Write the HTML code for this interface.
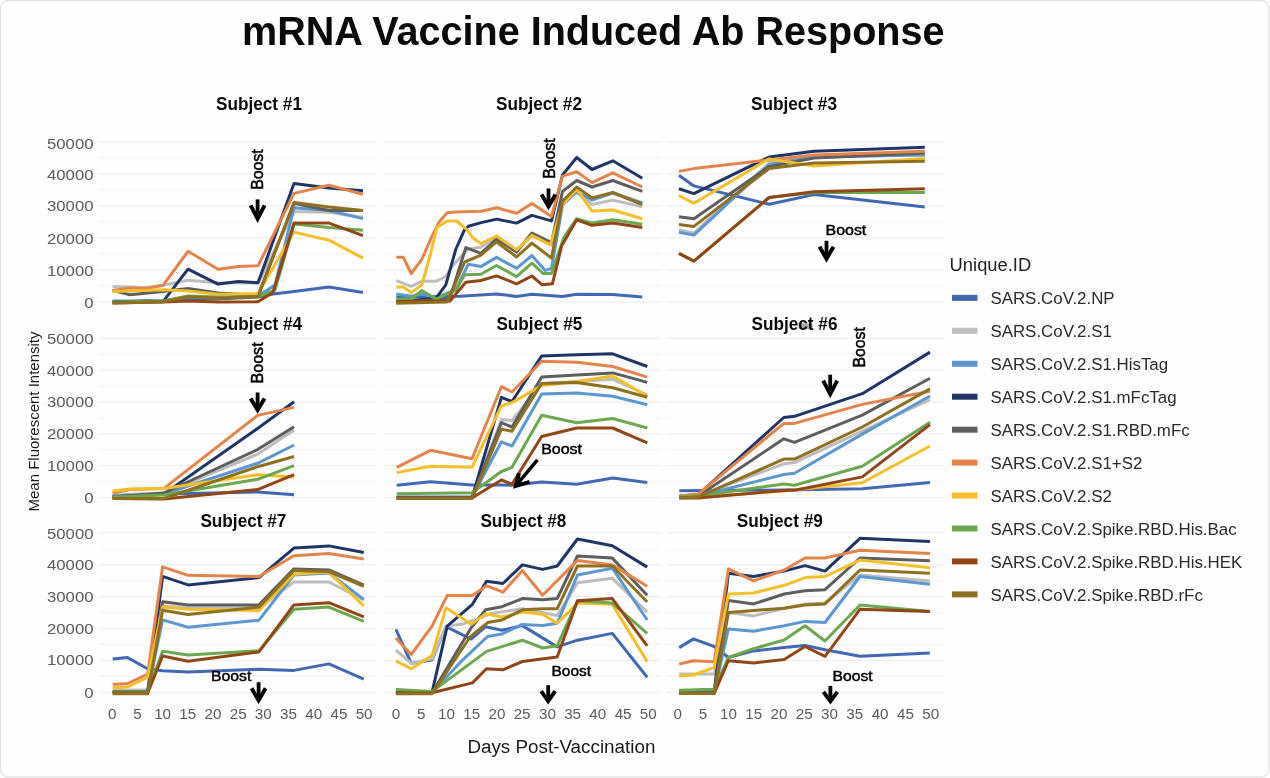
<!DOCTYPE html><html><head><meta charset="utf-8"><title>mRNA Vaccine Induced Ab Response</title>
<style>html,body{margin:0;padding:0;background:#fff;overflow:hidden;width:1270px;height:778px}svg{display:block;filter:blur(0.35px)}text{font-family:"Liberation Sans",sans-serif}</style></head><body>
<svg width="1270" height="778" viewBox="0 0 1270 778">
<rect x="0" y="0" width="1270" height="778" fill="#ffffff"/>
<rect x="0.5" y="0.5" width="1268.5" height="776.5" rx="8" ry="8" fill="#fefefe" stroke="#e4e4e4" stroke-width="1.4"/>
<g><line x1="99" y1="302.0" x2="376" y2="302.0" stroke="#ebebeb" stroke-width="1"/><line x1="384" y1="302.0" x2="661" y2="302.0" stroke="#ebebeb" stroke-width="1"/><line x1="666" y1="302.0" x2="944" y2="302.0" stroke="#ebebeb" stroke-width="1"/><line x1="99" y1="286.0" x2="376" y2="286.0" stroke="#f6f6f6" stroke-width="1"/><line x1="384" y1="286.0" x2="661" y2="286.0" stroke="#f6f6f6" stroke-width="1"/><line x1="666" y1="286.0" x2="944" y2="286.0" stroke="#f6f6f6" stroke-width="1"/><line x1="99" y1="270.0" x2="376" y2="270.0" stroke="#ebebeb" stroke-width="1"/><line x1="384" y1="270.0" x2="661" y2="270.0" stroke="#ebebeb" stroke-width="1"/><line x1="666" y1="270.0" x2="944" y2="270.0" stroke="#ebebeb" stroke-width="1"/><line x1="99" y1="254.0" x2="376" y2="254.0" stroke="#f6f6f6" stroke-width="1"/><line x1="384" y1="254.0" x2="661" y2="254.0" stroke="#f6f6f6" stroke-width="1"/><line x1="666" y1="254.0" x2="944" y2="254.0" stroke="#f6f6f6" stroke-width="1"/><line x1="99" y1="238.0" x2="376" y2="238.0" stroke="#ebebeb" stroke-width="1"/><line x1="384" y1="238.0" x2="661" y2="238.0" stroke="#ebebeb" stroke-width="1"/><line x1="666" y1="238.0" x2="944" y2="238.0" stroke="#ebebeb" stroke-width="1"/><line x1="99" y1="222.0" x2="376" y2="222.0" stroke="#f6f6f6" stroke-width="1"/><line x1="384" y1="222.0" x2="661" y2="222.0" stroke="#f6f6f6" stroke-width="1"/><line x1="666" y1="222.0" x2="944" y2="222.0" stroke="#f6f6f6" stroke-width="1"/><line x1="99" y1="206.0" x2="376" y2="206.0" stroke="#ebebeb" stroke-width="1"/><line x1="384" y1="206.0" x2="661" y2="206.0" stroke="#ebebeb" stroke-width="1"/><line x1="666" y1="206.0" x2="944" y2="206.0" stroke="#ebebeb" stroke-width="1"/><line x1="99" y1="190.0" x2="376" y2="190.0" stroke="#f6f6f6" stroke-width="1"/><line x1="384" y1="190.0" x2="661" y2="190.0" stroke="#f6f6f6" stroke-width="1"/><line x1="666" y1="190.0" x2="944" y2="190.0" stroke="#f6f6f6" stroke-width="1"/><line x1="99" y1="174.0" x2="376" y2="174.0" stroke="#ebebeb" stroke-width="1"/><line x1="384" y1="174.0" x2="661" y2="174.0" stroke="#ebebeb" stroke-width="1"/><line x1="666" y1="174.0" x2="944" y2="174.0" stroke="#ebebeb" stroke-width="1"/><line x1="99" y1="158.0" x2="376" y2="158.0" stroke="#f6f6f6" stroke-width="1"/><line x1="384" y1="158.0" x2="661" y2="158.0" stroke="#f6f6f6" stroke-width="1"/><line x1="666" y1="158.0" x2="944" y2="158.0" stroke="#f6f6f6" stroke-width="1"/><line x1="99" y1="142.0" x2="376" y2="142.0" stroke="#ebebeb" stroke-width="1"/><line x1="384" y1="142.0" x2="661" y2="142.0" stroke="#ebebeb" stroke-width="1"/><line x1="666" y1="142.0" x2="944" y2="142.0" stroke="#ebebeb" stroke-width="1"/><line x1="99" y1="497.5" x2="376" y2="497.5" stroke="#ebebeb" stroke-width="1"/><line x1="384" y1="497.5" x2="661" y2="497.5" stroke="#ebebeb" stroke-width="1"/><line x1="666" y1="497.5" x2="944" y2="497.5" stroke="#ebebeb" stroke-width="1"/><line x1="99" y1="481.6" x2="376" y2="481.6" stroke="#f6f6f6" stroke-width="1"/><line x1="384" y1="481.6" x2="661" y2="481.6" stroke="#f6f6f6" stroke-width="1"/><line x1="666" y1="481.6" x2="944" y2="481.6" stroke="#f6f6f6" stroke-width="1"/><line x1="99" y1="465.6" x2="376" y2="465.6" stroke="#ebebeb" stroke-width="1"/><line x1="384" y1="465.6" x2="661" y2="465.6" stroke="#ebebeb" stroke-width="1"/><line x1="666" y1="465.6" x2="944" y2="465.6" stroke="#ebebeb" stroke-width="1"/><line x1="99" y1="449.7" x2="376" y2="449.7" stroke="#f6f6f6" stroke-width="1"/><line x1="384" y1="449.7" x2="661" y2="449.7" stroke="#f6f6f6" stroke-width="1"/><line x1="666" y1="449.7" x2="944" y2="449.7" stroke="#f6f6f6" stroke-width="1"/><line x1="99" y1="433.8" x2="376" y2="433.8" stroke="#ebebeb" stroke-width="1"/><line x1="384" y1="433.8" x2="661" y2="433.8" stroke="#ebebeb" stroke-width="1"/><line x1="666" y1="433.8" x2="944" y2="433.8" stroke="#ebebeb" stroke-width="1"/><line x1="99" y1="417.9" x2="376" y2="417.9" stroke="#f6f6f6" stroke-width="1"/><line x1="384" y1="417.9" x2="661" y2="417.9" stroke="#f6f6f6" stroke-width="1"/><line x1="666" y1="417.9" x2="944" y2="417.9" stroke="#f6f6f6" stroke-width="1"/><line x1="99" y1="401.9" x2="376" y2="401.9" stroke="#ebebeb" stroke-width="1"/><line x1="384" y1="401.9" x2="661" y2="401.9" stroke="#ebebeb" stroke-width="1"/><line x1="666" y1="401.9" x2="944" y2="401.9" stroke="#ebebeb" stroke-width="1"/><line x1="99" y1="386.0" x2="376" y2="386.0" stroke="#f6f6f6" stroke-width="1"/><line x1="384" y1="386.0" x2="661" y2="386.0" stroke="#f6f6f6" stroke-width="1"/><line x1="666" y1="386.0" x2="944" y2="386.0" stroke="#f6f6f6" stroke-width="1"/><line x1="99" y1="370.1" x2="376" y2="370.1" stroke="#ebebeb" stroke-width="1"/><line x1="384" y1="370.1" x2="661" y2="370.1" stroke="#ebebeb" stroke-width="1"/><line x1="666" y1="370.1" x2="944" y2="370.1" stroke="#ebebeb" stroke-width="1"/><line x1="99" y1="354.2" x2="376" y2="354.2" stroke="#f6f6f6" stroke-width="1"/><line x1="384" y1="354.2" x2="661" y2="354.2" stroke="#f6f6f6" stroke-width="1"/><line x1="666" y1="354.2" x2="944" y2="354.2" stroke="#f6f6f6" stroke-width="1"/><line x1="99" y1="338.2" x2="376" y2="338.2" stroke="#ebebeb" stroke-width="1"/><line x1="384" y1="338.2" x2="661" y2="338.2" stroke="#ebebeb" stroke-width="1"/><line x1="666" y1="338.2" x2="944" y2="338.2" stroke="#ebebeb" stroke-width="1"/><line x1="99" y1="692.3" x2="376" y2="692.3" stroke="#ebebeb" stroke-width="1"/><line x1="384" y1="692.3" x2="661" y2="692.3" stroke="#ebebeb" stroke-width="1"/><line x1="666" y1="692.3" x2="944" y2="692.3" stroke="#ebebeb" stroke-width="1"/><line x1="99" y1="676.3" x2="376" y2="676.3" stroke="#f6f6f6" stroke-width="1"/><line x1="384" y1="676.3" x2="661" y2="676.3" stroke="#f6f6f6" stroke-width="1"/><line x1="666" y1="676.3" x2="944" y2="676.3" stroke="#f6f6f6" stroke-width="1"/><line x1="99" y1="660.4" x2="376" y2="660.4" stroke="#ebebeb" stroke-width="1"/><line x1="384" y1="660.4" x2="661" y2="660.4" stroke="#ebebeb" stroke-width="1"/><line x1="666" y1="660.4" x2="944" y2="660.4" stroke="#ebebeb" stroke-width="1"/><line x1="99" y1="644.4" x2="376" y2="644.4" stroke="#f6f6f6" stroke-width="1"/><line x1="384" y1="644.4" x2="661" y2="644.4" stroke="#f6f6f6" stroke-width="1"/><line x1="666" y1="644.4" x2="944" y2="644.4" stroke="#f6f6f6" stroke-width="1"/><line x1="99" y1="628.5" x2="376" y2="628.5" stroke="#ebebeb" stroke-width="1"/><line x1="384" y1="628.5" x2="661" y2="628.5" stroke="#ebebeb" stroke-width="1"/><line x1="666" y1="628.5" x2="944" y2="628.5" stroke="#ebebeb" stroke-width="1"/><line x1="99" y1="612.5" x2="376" y2="612.5" stroke="#f6f6f6" stroke-width="1"/><line x1="384" y1="612.5" x2="661" y2="612.5" stroke="#f6f6f6" stroke-width="1"/><line x1="666" y1="612.5" x2="944" y2="612.5" stroke="#f6f6f6" stroke-width="1"/><line x1="99" y1="596.6" x2="376" y2="596.6" stroke="#ebebeb" stroke-width="1"/><line x1="384" y1="596.6" x2="661" y2="596.6" stroke="#ebebeb" stroke-width="1"/><line x1="666" y1="596.6" x2="944" y2="596.6" stroke="#ebebeb" stroke-width="1"/><line x1="99" y1="580.6" x2="376" y2="580.6" stroke="#f6f6f6" stroke-width="1"/><line x1="384" y1="580.6" x2="661" y2="580.6" stroke="#f6f6f6" stroke-width="1"/><line x1="666" y1="580.6" x2="944" y2="580.6" stroke="#f6f6f6" stroke-width="1"/><line x1="99" y1="564.7" x2="376" y2="564.7" stroke="#ebebeb" stroke-width="1"/><line x1="384" y1="564.7" x2="661" y2="564.7" stroke="#ebebeb" stroke-width="1"/><line x1="666" y1="564.7" x2="944" y2="564.7" stroke="#ebebeb" stroke-width="1"/><line x1="99" y1="548.8" x2="376" y2="548.8" stroke="#f6f6f6" stroke-width="1"/><line x1="384" y1="548.8" x2="661" y2="548.8" stroke="#f6f6f6" stroke-width="1"/><line x1="666" y1="548.8" x2="944" y2="548.8" stroke="#f6f6f6" stroke-width="1"/><line x1="99" y1="532.8" x2="376" y2="532.8" stroke="#ebebeb" stroke-width="1"/><line x1="384" y1="532.8" x2="661" y2="532.8" stroke="#ebebeb" stroke-width="1"/><line x1="666" y1="532.8" x2="944" y2="532.8" stroke="#ebebeb" stroke-width="1"/></g>
<g><text x="93.5" y="307.5" text-anchor="end" font-size="15.2" fill="#5a5a5a" textLength="9.3" lengthAdjust="spacingAndGlyphs">0</text><text x="93.5" y="276.1" text-anchor="end" font-size="15.2" fill="#5a5a5a" textLength="46.5" lengthAdjust="spacingAndGlyphs">10000</text><text x="93.5" y="243.5" text-anchor="end" font-size="15.2" fill="#5a5a5a" textLength="46.5" lengthAdjust="spacingAndGlyphs">20000</text><text x="93.5" y="211.2" text-anchor="end" font-size="15.2" fill="#5a5a5a" textLength="46.5" lengthAdjust="spacingAndGlyphs">30000</text><text x="93.5" y="179.8" text-anchor="end" font-size="15.2" fill="#5a5a5a" textLength="46.5" lengthAdjust="spacingAndGlyphs">40000</text><text x="93.5" y="148.5" text-anchor="end" font-size="15.2" fill="#5a5a5a" textLength="46.5" lengthAdjust="spacingAndGlyphs">50000</text><text x="93.5" y="502.7" text-anchor="end" font-size="15.2" fill="#5a5a5a" textLength="9.3" lengthAdjust="spacingAndGlyphs">0</text><text x="93.5" y="471.0" text-anchor="end" font-size="15.2" fill="#5a5a5a" textLength="46.5" lengthAdjust="spacingAndGlyphs">10000</text><text x="93.5" y="439.3" text-anchor="end" font-size="15.2" fill="#5a5a5a" textLength="46.5" lengthAdjust="spacingAndGlyphs">20000</text><text x="93.5" y="407.3" text-anchor="end" font-size="15.2" fill="#5a5a5a" textLength="46.5" lengthAdjust="spacingAndGlyphs">30000</text><text x="93.5" y="375.7" text-anchor="end" font-size="15.2" fill="#5a5a5a" textLength="46.5" lengthAdjust="spacingAndGlyphs">40000</text><text x="93.5" y="343.7" text-anchor="end" font-size="15.2" fill="#5a5a5a" textLength="46.5" lengthAdjust="spacingAndGlyphs">50000</text><text x="93.5" y="698.0" text-anchor="end" font-size="15.2" fill="#5a5a5a" textLength="9.3" lengthAdjust="spacingAndGlyphs">0</text><text x="93.5" y="665.4" text-anchor="end" font-size="15.2" fill="#5a5a5a" textLength="46.5" lengthAdjust="spacingAndGlyphs">10000</text><text x="93.5" y="633.8" text-anchor="end" font-size="15.2" fill="#5a5a5a" textLength="46.5" lengthAdjust="spacingAndGlyphs">20000</text><text x="93.5" y="602.4" text-anchor="end" font-size="15.2" fill="#5a5a5a" textLength="46.5" lengthAdjust="spacingAndGlyphs">30000</text><text x="93.5" y="570.3" text-anchor="end" font-size="15.2" fill="#5a5a5a" textLength="46.5" lengthAdjust="spacingAndGlyphs">40000</text><text x="93.5" y="538.6" text-anchor="end" font-size="15.2" fill="#5a5a5a" textLength="46.5" lengthAdjust="spacingAndGlyphs">50000</text></g>
<g><text x="112.2" y="719.2" text-anchor="middle" font-size="15.2" fill="#5a5a5a">0</text><text x="137.4" y="719.2" text-anchor="middle" font-size="15.2" fill="#5a5a5a">5</text><text x="162.6" y="719.2" text-anchor="middle" font-size="15.2" fill="#5a5a5a">10</text><text x="187.8" y="719.2" text-anchor="middle" font-size="15.2" fill="#5a5a5a">15</text><text x="213.0" y="719.2" text-anchor="middle" font-size="15.2" fill="#5a5a5a">20</text><text x="238.2" y="719.2" text-anchor="middle" font-size="15.2" fill="#5a5a5a">25</text><text x="263.3" y="719.2" text-anchor="middle" font-size="15.2" fill="#5a5a5a">30</text><text x="288.5" y="719.2" text-anchor="middle" font-size="15.2" fill="#5a5a5a">35</text><text x="313.7" y="719.2" text-anchor="middle" font-size="15.2" fill="#5a5a5a">40</text><text x="338.9" y="719.2" text-anchor="middle" font-size="15.2" fill="#5a5a5a">45</text><text x="364.1" y="719.2" text-anchor="middle" font-size="15.2" fill="#5a5a5a">50</text><text x="396.0" y="719.2" text-anchor="middle" font-size="15.2" fill="#5a5a5a">0</text><text x="421.2" y="719.2" text-anchor="middle" font-size="15.2" fill="#5a5a5a">5</text><text x="446.5" y="719.2" text-anchor="middle" font-size="15.2" fill="#5a5a5a">10</text><text x="471.7" y="719.2" text-anchor="middle" font-size="15.2" fill="#5a5a5a">15</text><text x="496.9" y="719.2" text-anchor="middle" font-size="15.2" fill="#5a5a5a">20</text><text x="522.1" y="719.2" text-anchor="middle" font-size="15.2" fill="#5a5a5a">25</text><text x="547.4" y="719.2" text-anchor="middle" font-size="15.2" fill="#5a5a5a">30</text><text x="572.6" y="719.2" text-anchor="middle" font-size="15.2" fill="#5a5a5a">35</text><text x="597.8" y="719.2" text-anchor="middle" font-size="15.2" fill="#5a5a5a">40</text><text x="623.1" y="719.2" text-anchor="middle" font-size="15.2" fill="#5a5a5a">45</text><text x="648.3" y="719.2" text-anchor="middle" font-size="15.2" fill="#5a5a5a">50</text><text x="677.8" y="719.2" text-anchor="middle" font-size="15.2" fill="#5a5a5a">0</text><text x="703.1" y="719.2" text-anchor="middle" font-size="15.2" fill="#5a5a5a">5</text><text x="728.4" y="719.2" text-anchor="middle" font-size="15.2" fill="#5a5a5a">10</text><text x="753.7" y="719.2" text-anchor="middle" font-size="15.2" fill="#5a5a5a">15</text><text x="779.0" y="719.2" text-anchor="middle" font-size="15.2" fill="#5a5a5a">20</text><text x="804.2" y="719.2" text-anchor="middle" font-size="15.2" fill="#5a5a5a">25</text><text x="829.5" y="719.2" text-anchor="middle" font-size="15.2" fill="#5a5a5a">30</text><text x="854.8" y="719.2" text-anchor="middle" font-size="15.2" fill="#5a5a5a">35</text><text x="880.1" y="719.2" text-anchor="middle" font-size="15.2" fill="#5a5a5a">40</text><text x="905.4" y="719.2" text-anchor="middle" font-size="15.2" fill="#5a5a5a">45</text><text x="930.7" y="719.2" text-anchor="middle" font-size="15.2" fill="#5a5a5a">50</text></g>
<text x="242" y="45.4" font-size="40.5" font-weight="bold" fill="#0a0a0a" textLength="702.5" lengthAdjust="spacingAndGlyphs">mRNA Vaccine Induced Ab Response</text>
<rect x="798.5" y="323.3" width="14" height="5.7" fill="#8a8a8a" opacity="0.7"/>
<text x="216" y="109.8" font-size="18.5" font-weight="bold" fill="#0a0a0a" textLength="86" lengthAdjust="spacingAndGlyphs">Subject #1</text>
<text x="496" y="109.8" font-size="18.5" font-weight="bold" fill="#0a0a0a" textLength="86" lengthAdjust="spacingAndGlyphs">Subject #2</text>
<text x="751" y="109.8" font-size="18.5" font-weight="bold" fill="#0a0a0a" textLength="86" lengthAdjust="spacingAndGlyphs">Subject #3</text>
<text x="216.2" y="329.6" font-size="18.5" font-weight="bold" fill="#0a0a0a" textLength="86" lengthAdjust="spacingAndGlyphs">Subject #4</text>
<text x="496.4" y="329.6" font-size="18.5" font-weight="bold" fill="#0a0a0a" textLength="86" lengthAdjust="spacingAndGlyphs">Subject #5</text>
<text x="751.5" y="329.6" font-size="18.5" font-weight="bold" fill="#0a0a0a" textLength="86" lengthAdjust="spacingAndGlyphs">Subject #6</text>
<text x="200.4" y="527" font-size="18.5" font-weight="bold" fill="#0a0a0a" textLength="86" lengthAdjust="spacingAndGlyphs">Subject #7</text>
<text x="480.4" y="527" font-size="18.5" font-weight="bold" fill="#0a0a0a" textLength="86" lengthAdjust="spacingAndGlyphs">Subject #8</text>
<text x="736.8" y="527" font-size="18.5" font-weight="bold" fill="#0a0a0a" textLength="86" lengthAdjust="spacingAndGlyphs">Subject #9</text>
<text x="467.4" y="752.6" font-size="18" fill="#1a1a1a" textLength="188" lengthAdjust="spacingAndGlyphs">Days Post-Vaccination</text>
<text transform="translate(39.3,511.5) rotate(-90)" x="0" y="0" font-size="15.5" fill="#1a1a1a" textLength="180" lengthAdjust="spacingAndGlyphs">Mean Fluorescent Intensity</text>
<text x="949.6" y="270.7" font-size="18" fill="#222" textLength="81.6" lengthAdjust="spacingAndGlyphs">Unique.ID</text>
<rect x="952" y="294.9" width="25.5" height="6" fill="#4169b3"/>
<text x="990.4" y="304.0" font-size="16.9" fill="#2a2a2a">SARS.CoV.2.NP</text>
<rect x="952" y="327.8" width="25.5" height="6" fill="#bdbdbd"/>
<text x="990.4" y="336.9" font-size="16.9" fill="#2a2a2a">SARS.CoV.2.S1</text>
<rect x="952" y="360.8" width="25.5" height="6" fill="#5b97d0"/>
<text x="990.4" y="369.9" font-size="16.9" fill="#2a2a2a">SARS.CoV.2.S1.HisTag</text>
<rect x="952" y="393.7" width="25.5" height="6" fill="#1f3566"/>
<text x="990.4" y="402.8" font-size="16.9" fill="#2a2a2a">SARS.CoV.2.S1.mFcTag</text>
<rect x="952" y="426.7" width="25.5" height="6" fill="#5e5e5e"/>
<text x="990.4" y="435.8" font-size="16.9" fill="#2a2a2a">SARS.CoV.2.S1.RBD.mFc</text>
<rect x="952" y="459.6" width="25.5" height="6" fill="#e4844a"/>
<text x="990.4" y="468.7" font-size="16.9" fill="#2a2a2a">SARS.CoV.2.S1+S2</text>
<rect x="952" y="492.5" width="25.5" height="6" fill="#f4bf2a"/>
<text x="990.4" y="501.6" font-size="16.9" fill="#2a2a2a">SARS.CoV.2.S2</text>
<rect x="952" y="525.5" width="25.5" height="6" fill="#6ba84e"/>
<text x="990.4" y="534.6" font-size="16.9" fill="#2a2a2a">SARS.CoV.2.Spike.RBD.His.Bac</text>
<rect x="952" y="558.4" width="25.5" height="6" fill="#924616"/>
<text x="990.4" y="567.5" font-size="16.9" fill="#2a2a2a">SARS.CoV.2.Spike.RBD.His.HEK</text>
<rect x="952" y="591.4" width="25.5" height="6" fill="#8f7020"/>
<text x="990.4" y="600.5" font-size="16.9" fill="#2a2a2a">SARS.CoV.2.Spike.RBD.rFc</text>
<g><polyline points="112.6,302.0 163.0,301.0 188.0,299.0 218.0,299.0 258.0,297.0 273.0,294.0 294.0,291.5 329.0,287.0 363.0,292.4" fill="none" stroke="#4169b3" stroke-width="3" stroke-linejoin="round" stroke-linecap="butt"/><polyline points="112.6,286.6 130.0,287.0 146.6,287.5 163.0,285.3 188.0,280.3 218.0,282.8 258.0,283.0 294.0,211.4 329.0,212.2 363.0,217.5" fill="none" stroke="#bdbdbd" stroke-width="3" stroke-linejoin="round" stroke-linecap="butt"/><polyline points="112.6,301.0 163.0,301.0 188.0,297.0 218.0,298.0 258.0,296.0 275.0,285.0 294.0,207.8 329.0,210.5 363.0,218.6" fill="none" stroke="#5b97d0" stroke-width="3" stroke-linejoin="round" stroke-linecap="butt"/><polyline points="112.6,302.0 146.6,301.0 163.0,301.7 188.0,269.2 218.0,284.1 238.5,281.6 258.0,282.8 294.0,183.5 329.0,188.0 363.0,190.7" fill="none" stroke="#1f3566" stroke-width="3" stroke-linejoin="round" stroke-linecap="butt"/><polyline points="112.6,290.4 130.0,294.8 163.0,291.6 188.0,288.5 218.0,292.9 258.0,295.4 294.0,203.3 329.0,210.5 363.0,210.5" fill="none" stroke="#5e5e5e" stroke-width="3" stroke-linejoin="round" stroke-linecap="butt"/><polyline points="112.6,290.4 130.0,287.9 146.6,288.5 163.0,285.3 188.0,251.3 218.0,269.2 238.5,266.4 258.0,265.8 294.0,193.4 329.0,185.3 363.0,194.3" fill="none" stroke="#e4844a" stroke-width="3" stroke-linejoin="round" stroke-linecap="butt"/><polyline points="112.6,291.6 163.0,289.7 188.0,291.0 218.0,294.2 258.0,293.5 294.0,232.1 329.0,240.2 363.0,258.2" fill="none" stroke="#f4bf2a" stroke-width="3" stroke-linejoin="round" stroke-linecap="butt"/><polyline points="112.6,302.0 163.0,301.0 188.0,296.0 218.0,297.0 258.0,296.7 275.0,290.0 294.0,224.0 329.0,227.6 363.0,230.3" fill="none" stroke="#6ba84e" stroke-width="3" stroke-linejoin="round" stroke-linecap="butt"/><polyline points="112.6,303.0 163.0,302.0 188.0,301.0 218.0,302.0 258.0,301.7 273.0,292.4 294.0,223.1 329.0,223.1 363.0,235.7" fill="none" stroke="#924616" stroke-width="3" stroke-linejoin="round" stroke-linecap="butt"/><polyline points="112.6,303.0 163.0,301.7 188.0,296.7 218.0,298.0 258.0,296.7 294.0,202.4 329.0,206.9 363.0,210.5" fill="none" stroke="#8f7020" stroke-width="3" stroke-linejoin="round" stroke-linecap="butt"/></g>
<g><polyline points="396.3,297.0 460.0,296.2 496.7,294.0 516.6,296.4 531.9,294.2 562.5,296.4 576.7,294.2 612.8,294.5 642.3,297.0" fill="none" stroke="#4169b3" stroke-width="3" stroke-linejoin="round" stroke-linecap="butt"/><polyline points="396.3,280.6 411.2,286.3 421.8,281.3 435.9,281.3 445.0,277.0 453.0,265.5 461.2,256.2 468.2,249.3 481.2,247.0 496.7,237.0 516.6,250.0 531.9,236.0 551.5,245.0 562.5,200.0 576.7,192.5 592.0,204.5 612.8,200.1 642.3,206.7" fill="none" stroke="#bdbdbd" stroke-width="3" stroke-linejoin="round" stroke-linecap="butt"/><polyline points="396.3,294.0 411.2,296.2 421.8,294.0 435.9,297.6 455.7,290.0 468.2,264.3 480.9,266.6 496.5,257.4 516.6,268.3 531.9,255.5 545.2,270.4 551.5,268.3 562.5,205.0 576.7,192.0 592.0,200.0 612.8,193.0 642.3,203.0" fill="none" stroke="#5b97d0" stroke-width="3" stroke-linejoin="round" stroke-linecap="butt"/><polyline points="396.3,301.8 435.9,298.3 445.8,284.9 455.7,249.5 464.2,230.4 468.4,226.2 481.2,222.6 496.7,219.1 516.6,223.1 531.9,215.4 551.5,220.9 562.5,175.0 576.7,157.5 592.0,169.5 612.8,160.8 642.3,178.3" fill="none" stroke="#1f3566" stroke-width="3" stroke-linejoin="round" stroke-linecap="butt"/><polyline points="396.3,302.0 449.7,299.0 465.8,247.6 480.9,253.4 496.5,239.0 516.6,252.0 531.9,233.0 551.5,242.6 562.5,191.4 576.7,180.5 592.0,187.0 612.8,180.5 642.3,191.4" fill="none" stroke="#5e5e5e" stroke-width="3" stroke-linejoin="round" stroke-linecap="butt"/><polyline points="396.3,257.3 403.4,257.3 411.2,273.5 421.8,259.4 431.7,236.8 438.7,222.6 447.2,212.7 455.7,212.0 481.2,211.3 496.7,207.8 516.6,213.3 531.9,203.4 551.5,216.5 562.5,176.1 576.7,171.7 592.0,182.6 612.8,172.8 642.3,187.0" fill="none" stroke="#e4844a" stroke-width="3" stroke-linejoin="round" stroke-linecap="butt"/><polyline points="396.3,287.0 403.4,287.0 411.2,292.6 421.8,284.9 430.0,256.0 436.9,227.3 447.3,221.0 456.6,221.0 467.0,229.7 473.0,238.0 480.9,243.5 496.5,236.0 516.6,249.8 531.9,235.4 550.4,244.7 562.5,204.5 576.7,189.2 592.0,211.1 612.8,210.0 642.3,218.7" fill="none" stroke="#f4bf2a" stroke-width="3" stroke-linejoin="round" stroke-linecap="butt"/><polyline points="396.3,299.0 411.2,299.0 421.8,290.5 435.9,299.0 455.7,290.0 464.7,274.7 480.9,274.2 496.5,265.5 516.6,276.6 531.9,263.2 543.2,273.5 551.5,273.5 563.8,237.5 576.7,218.7 592.0,223.1 612.8,219.8 642.3,224.2" fill="none" stroke="#6ba84e" stroke-width="3" stroke-linejoin="round" stroke-linecap="butt"/><polyline points="396.3,301.5 450.0,301.0 465.8,282.3 480.9,280.5 496.5,275.9 516.6,283.8 531.9,276.0 542.2,284.8 552.4,283.8 561.7,245.7 576.7,219.8 592.0,225.3 612.8,223.1 642.3,227.5" fill="none" stroke="#924616" stroke-width="3" stroke-linejoin="round" stroke-linecap="butt"/><polyline points="396.3,303.2 447.0,302.0 464.7,262.0 480.9,255.1 496.5,241.8 516.6,257.0 531.9,243.1 551.5,258.0 562.5,201.2 576.7,187.0 592.0,198.0 612.8,192.5 642.3,204.5" fill="none" stroke="#8f7020" stroke-width="3" stroke-linejoin="round" stroke-linecap="butt"/></g>
<g><polyline points="678.9,175.3 693.9,185.9 769.1,204.2 814.0,194.6 924.8,207.1" fill="none" stroke="#4169b3" stroke-width="3" stroke-linejoin="round" stroke-linecap="butt"/><polyline points="678.9,230.0 693.9,233.0 769.1,163.0 814.0,156.0 924.8,155.0" fill="none" stroke="#bdbdbd" stroke-width="3" stroke-linejoin="round" stroke-linecap="butt"/><polyline points="678.9,232.2 693.9,235.1 769.1,164.7 814.0,157.0 924.8,155.0" fill="none" stroke="#5b97d0" stroke-width="3" stroke-linejoin="round" stroke-linecap="butt"/><polyline points="678.9,188.8 693.9,193.6 769.1,157.0 814.0,151.2 924.8,147.3" fill="none" stroke="#1f3566" stroke-width="3" stroke-linejoin="round" stroke-linecap="butt"/><polyline points="678.9,216.8 693.9,218.7 769.1,166.6 814.0,158.0 924.8,153.0" fill="none" stroke="#5e5e5e" stroke-width="3" stroke-linejoin="round" stroke-linecap="butt"/><polyline points="678.9,171.4 693.9,168.6 769.1,159.9 814.0,155.0 924.8,151.2" fill="none" stroke="#e4844a" stroke-width="3" stroke-linejoin="round" stroke-linecap="butt"/><polyline points="678.9,195.5 693.9,203.3 769.1,158.9 814.0,166.0 924.8,158.5" fill="none" stroke="#f4bf2a" stroke-width="3" stroke-linejoin="round" stroke-linecap="butt"/><polyline points="678.9,253.4 693.9,261.1 769.1,197.5 814.0,192.6 924.8,192.6" fill="none" stroke="#6ba84e" stroke-width="3" stroke-linejoin="round" stroke-linecap="butt"/><polyline points="678.9,253.4 693.9,261.1 769.1,197.5 814.0,191.7 924.8,188.8" fill="none" stroke="#924616" stroke-width="3" stroke-linejoin="round" stroke-linecap="butt"/><polyline points="678.9,224.5 693.9,226.4 769.1,168.5 814.0,163.0 924.8,161.2" fill="none" stroke="#8f7020" stroke-width="3" stroke-linejoin="round" stroke-linecap="butt"/></g>
<g><polyline points="112.6,497.0 163.9,494.1 257.6,491.9 294.1,494.8" fill="none" stroke="#4169b3" stroke-width="3" stroke-linejoin="round" stroke-linecap="butt"/><polyline points="112.6,495.0 163.9,493.0 257.6,454.2 294.1,430.0" fill="none" stroke="#bdbdbd" stroke-width="3" stroke-linejoin="round" stroke-linecap="butt"/><polyline points="112.6,496.0 163.9,494.0 257.6,463.3 294.1,445.0" fill="none" stroke="#5b97d0" stroke-width="3" stroke-linejoin="round" stroke-linecap="butt"/><polyline points="112.6,497.0 163.9,494.0 257.6,428.4 294.1,401.7" fill="none" stroke="#1f3566" stroke-width="3" stroke-linejoin="round" stroke-linecap="butt"/><polyline points="112.6,497.0 163.9,493.0 257.6,449.6 294.1,426.8" fill="none" stroke="#5e5e5e" stroke-width="3" stroke-linejoin="round" stroke-linecap="butt"/><polyline points="112.6,493.0 129.7,489.6 163.9,488.4 257.6,415.4 294.1,407.4" fill="none" stroke="#e4844a" stroke-width="3" stroke-linejoin="round" stroke-linecap="butt"/><polyline points="112.6,491.0 129.7,489.0 163.9,488.4 257.6,474.7 294.1,477.0" fill="none" stroke="#f4bf2a" stroke-width="3" stroke-linejoin="round" stroke-linecap="butt"/><polyline points="112.6,497.0 163.9,495.0 257.6,479.3 294.1,465.6" fill="none" stroke="#6ba84e" stroke-width="3" stroke-linejoin="round" stroke-linecap="butt"/><polyline points="112.6,498.5 163.9,499.0 257.6,489.6 294.1,474.7" fill="none" stroke="#924616" stroke-width="3" stroke-linejoin="round" stroke-linecap="butt"/><polyline points="112.6,498.5 163.9,498.5 257.6,466.7 294.1,456.5" fill="none" stroke="#8f7020" stroke-width="3" stroke-linejoin="round" stroke-linecap="butt"/></g>
<g><polyline points="396.7,485.3 430.6,481.7 472.0,484.9 501.4,485.0 512.0,485.3 541.7,482.1 576.7,484.2 612.7,477.9 647.3,482.5" fill="none" stroke="#4169b3" stroke-width="3" stroke-linejoin="round" stroke-linecap="butt"/><polyline points="396.7,497.0 472.0,497.0 501.4,419.5 512.0,420.6 541.7,383.5 576.7,381.4 612.7,379.2 647.3,395.1" fill="none" stroke="#bdbdbd" stroke-width="3" stroke-linejoin="round" stroke-linecap="butt"/><polyline points="396.7,497.0 472.0,497.0 501.4,441.8 512.0,446.0 541.7,394.1 576.7,393.0 612.7,396.2 647.3,404.7" fill="none" stroke="#5b97d0" stroke-width="3" stroke-linejoin="round" stroke-linecap="butt"/><polyline points="396.7,498.0 472.0,498.0 501.4,397.3 512.0,401.5 541.7,355.9 576.7,354.8 612.7,353.8 647.3,366.5" fill="none" stroke="#1f3566" stroke-width="3" stroke-linejoin="round" stroke-linecap="butt"/><polyline points="396.7,498.0 472.0,498.0 501.4,422.7 512.0,427.0 541.7,377.1 576.7,375.0 612.7,372.9 647.3,382.4" fill="none" stroke="#5e5e5e" stroke-width="3" stroke-linejoin="round" stroke-linecap="butt"/><polyline points="396.7,467.3 430.6,450.3 472.0,458.8 501.4,386.7 512.0,392.0 541.7,361.2 576.7,362.3 612.7,366.5 647.3,377.1" fill="none" stroke="#e4844a" stroke-width="3" stroke-linejoin="round" stroke-linecap="butt"/><polyline points="396.7,472.6 430.6,466.2 472.0,467.3 501.4,405.7 512.0,402.6 541.7,385.6 576.7,381.4 612.7,376.0 647.3,396.2" fill="none" stroke="#f4bf2a" stroke-width="3" stroke-linejoin="round" stroke-linecap="butt"/><polyline points="396.7,493.8 472.0,492.7 501.4,471.5 512.0,467.3 541.7,415.3 576.7,422.7 612.7,418.5 647.3,428.0" fill="none" stroke="#6ba84e" stroke-width="3" stroke-linejoin="round" stroke-linecap="butt"/><polyline points="396.7,498.0 472.0,498.0 501.4,480.0 512.0,484.2 541.7,436.5 576.7,428.0 612.7,428.0 647.3,442.9" fill="none" stroke="#924616" stroke-width="3" stroke-linejoin="round" stroke-linecap="butt"/><polyline points="396.7,498.5 472.0,498.5 501.4,429.1 512.0,431.2 541.7,383.5 576.7,382.4 612.7,387.7 647.3,397.3" fill="none" stroke="#8f7020" stroke-width="3" stroke-linejoin="round" stroke-linecap="butt"/></g>
<g><polyline points="679.3,490.7 783.8,490.0 862.3,488.8 930.0,482.4" fill="none" stroke="#4169b3" stroke-width="3" stroke-linejoin="round" stroke-linecap="butt"/><polyline points="679.3,497.0 698.3,496.0 783.8,463.8 794.5,462.6 930.0,399.6" fill="none" stroke="#bdbdbd" stroke-width="3" stroke-linejoin="round" stroke-linecap="butt"/><polyline points="679.3,497.0 698.3,496.0 783.8,474.5 794.5,473.3 862.3,434.1 930.0,396.0" fill="none" stroke="#5b97d0" stroke-width="3" stroke-linejoin="round" stroke-linecap="butt"/><polyline points="679.3,495.9 698.3,494.7 783.8,417.5 794.5,416.3 862.3,393.7 930.0,352.1" fill="none" stroke="#1f3566" stroke-width="3" stroke-linejoin="round" stroke-linecap="butt"/><polyline points="679.3,497.0 698.3,496.0 783.8,438.8 794.5,442.4 862.3,415.1 930.0,378.2" fill="none" stroke="#5e5e5e" stroke-width="3" stroke-linejoin="round" stroke-linecap="butt"/><polyline points="679.3,496.0 698.3,494.0 783.8,423.4 794.5,423.4 862.3,404.4 930.0,391.3" fill="none" stroke="#e4844a" stroke-width="3" stroke-linejoin="round" stroke-linecap="butt"/><polyline points="679.3,497.0 698.3,497.0 783.8,491.1 862.3,482.8 930.0,446.0" fill="none" stroke="#f4bf2a" stroke-width="3" stroke-linejoin="round" stroke-linecap="butt"/><polyline points="679.3,497.0 698.3,496.0 783.8,484.0 794.5,485.2 862.3,466.2 930.0,422.2" fill="none" stroke="#6ba84e" stroke-width="3" stroke-linejoin="round" stroke-linecap="butt"/><polyline points="679.3,498.0 698.3,498.0 783.8,490.5 796.0,490.0 862.3,476.9 930.0,424.6" fill="none" stroke="#924616" stroke-width="3" stroke-linejoin="round" stroke-linecap="butt"/><polyline points="679.3,498.0 698.3,497.0 783.8,459.1 794.5,459.1 862.3,427.0 930.0,388.9" fill="none" stroke="#8f7020" stroke-width="3" stroke-linejoin="round" stroke-linecap="butt"/></g>
<g><polyline points="112.7,659.1 127.6,657.6 147.7,668.7 162.6,670.8 188.0,671.9 259.0,669.3 293.9,670.4 328.9,663.9 363.8,679.2" fill="none" stroke="#4169b3" stroke-width="3" stroke-linejoin="round" stroke-linecap="butt"/><polyline points="112.7,690.0 147.7,690.0 162.6,606.0 188.0,608.0 259.0,608.0 293.9,582.0 328.9,582.0 363.8,600.0" fill="none" stroke="#bdbdbd" stroke-width="3" stroke-linejoin="round" stroke-linecap="butt"/><polyline points="112.7,692.0 147.7,692.0 162.6,619.9 188.0,627.3 259.0,620.2 293.9,575.0 328.9,573.0 363.8,599.4" fill="none" stroke="#5b97d0" stroke-width="3" stroke-linejoin="round" stroke-linecap="butt"/><polyline points="112.7,692.0 147.7,692.0 162.6,576.4 188.0,584.9 259.0,577.6 293.9,548.1 328.9,545.9 363.8,552.5" fill="none" stroke="#1f3566" stroke-width="3" stroke-linejoin="round" stroke-linecap="butt"/><polyline points="112.7,692.0 147.7,692.0 162.6,601.8 188.0,605.0 259.0,604.9 293.9,568.9 328.9,570.0 363.8,585.2" fill="none" stroke="#5e5e5e" stroke-width="3" stroke-linejoin="round" stroke-linecap="butt"/><polyline points="112.7,684.6 127.6,683.5 147.7,674.0 162.6,566.8 188.0,575.3 259.0,576.5 293.9,555.8 328.9,553.6 363.8,559.0" fill="none" stroke="#e4844a" stroke-width="3" stroke-linejoin="round" stroke-linecap="butt"/><polyline points="112.7,687.8 127.6,687.0 147.7,677.2 162.6,607.1 188.0,609.3 259.0,610.4 293.9,574.3 328.9,572.1 363.8,606.0" fill="none" stroke="#f4bf2a" stroke-width="3" stroke-linejoin="round" stroke-linecap="butt"/><polyline points="112.7,692.0 147.7,692.0 162.6,651.3 188.0,654.9 259.0,650.8 293.9,609.3 328.9,607.1 363.8,621.3" fill="none" stroke="#6ba84e" stroke-width="3" stroke-linejoin="round" stroke-linecap="butt"/><polyline points="112.7,693.0 147.7,693.0 162.6,656.0 188.0,661.2 259.0,651.9 293.9,604.9 328.9,602.7 363.8,616.9" fill="none" stroke="#924616" stroke-width="3" stroke-linejoin="round" stroke-linecap="butt"/><polyline points="112.7,693.7 147.7,693.7 162.6,610.3 188.0,614.6 259.0,607.1 293.9,570.5 328.9,571.5 363.8,586.3" fill="none" stroke="#8f7020" stroke-width="3" stroke-linejoin="round" stroke-linecap="butt"/></g>
<g><polyline points="395.9,629.4 411.2,663.2 432.0,660.0 446.0,626.7 471.2,639.1 485.6,626.7 502.0,630.3 522.4,625.6 557.2,646.9 577.5,640.2 612.3,633.4 647.2,677.3" fill="none" stroke="#4169b3" stroke-width="3" stroke-linejoin="round" stroke-linecap="butt"/><polyline points="395.9,650.1 411.2,663.2 432.0,658.8 446.0,626.2 464.0,623.7 491.7,613.4 522.4,608.7 557.2,615.5 577.5,582.8 612.3,578.3 647.2,612.1" fill="none" stroke="#bdbdbd" stroke-width="3" stroke-linejoin="round" stroke-linecap="butt"/><polyline points="395.9,693.0 432.0,692.5 460.9,661.7 487.6,636.5 502.0,634.0 522.4,624.4 542.6,625.6 557.2,623.3 577.5,575.0 612.3,568.2 647.2,620.0" fill="none" stroke="#5b97d0" stroke-width="3" stroke-linejoin="round" stroke-linecap="butt"/><polyline points="395.9,692.7 432.0,692.7 447.2,626.1 472.4,604.3 486.5,581.3 502.9,583.5 522.4,564.9 542.6,569.4 557.2,566.0 577.5,539.0 612.3,545.7 647.2,567.1" fill="none" stroke="#1f3566" stroke-width="3" stroke-linejoin="round" stroke-linecap="butt"/><polyline points="395.9,693.0 432.0,693.0 471.2,627.8 485.6,609.8 502.0,606.7 522.4,598.6 542.6,599.7 557.2,598.6 577.5,555.9 612.3,558.1 647.2,595.2" fill="none" stroke="#5e5e5e" stroke-width="3" stroke-linejoin="round" stroke-linecap="butt"/><polyline points="395.9,638.1 411.2,654.5 432.0,626.1 447.2,595.5 472.4,595.5 486.5,585.7 502.9,592.2 522.4,570.5 542.6,595.2 577.5,560.4 612.3,564.9 647.2,586.2" fill="none" stroke="#e4844a" stroke-width="3" stroke-linejoin="round" stroke-linecap="butt"/><polyline points="395.9,661.0 411.2,668.7 432.0,655.6 446.0,607.7 471.2,624.2 485.6,613.9 502.0,617.0 522.4,612.1 542.6,614.3 557.2,623.3 577.5,603.1 612.3,604.2 647.2,661.6" fill="none" stroke="#f4bf2a" stroke-width="3" stroke-linejoin="round" stroke-linecap="butt"/><polyline points="395.9,689.4 432.0,691.6 486.6,651.4 522.4,640.2 542.6,648.0 557.2,645.8 577.5,600.8 612.3,603.1 647.2,633.4" fill="none" stroke="#6ba84e" stroke-width="3" stroke-linejoin="round" stroke-linecap="butt"/><polyline points="395.9,693.0 432.0,692.7 472.4,682.9 486.5,668.7 502.9,669.8 522.4,661.5 557.2,657.1 577.5,600.8 612.3,598.6 647.2,645.8" fill="none" stroke="#924616" stroke-width="3" stroke-linejoin="round" stroke-linecap="butt"/><polyline points="395.9,693.8 432.0,693.8 470.1,637.0 487.6,622.6 502.0,620.0 522.4,609.8 542.6,608.7 557.2,608.7 577.5,566.0 612.3,566.0 647.2,602.0" fill="none" stroke="#8f7020" stroke-width="3" stroke-linejoin="round" stroke-linecap="butt"/></g>
<g><polyline points="679.2,647.6 693.4,638.9 714.2,646.5 728.4,657.5 753.6,650.9 784.2,647.6 805.0,645.4 825.0,649.8 860.0,656.3 929.9,653.1" fill="none" stroke="#4169b3" stroke-width="3" stroke-linejoin="round" stroke-linecap="butt"/><polyline points="679.2,673.9 714.2,673.9 728.4,612.6 753.6,615.9 784.2,608.3 805.0,603.9 825.0,603.0 860.0,575.0 929.9,581.0" fill="none" stroke="#bdbdbd" stroke-width="3" stroke-linejoin="round" stroke-linecap="butt"/><polyline points="679.2,692.0 714.2,692.0 728.4,629.0 753.6,631.2 784.2,625.7 805.0,621.4 825.0,622.5 860.0,576.5 929.9,584.2" fill="none" stroke="#5b97d0" stroke-width="3" stroke-linejoin="round" stroke-linecap="butt"/><polyline points="679.2,692.0 714.2,692.0 728.4,573.3 753.6,576.5 784.2,571.1 805.0,565.6 825.0,571.1 860.0,538.3 929.9,541.6" fill="none" stroke="#1f3566" stroke-width="3" stroke-linejoin="round" stroke-linecap="butt"/><polyline points="679.2,692.0 714.2,692.0 728.4,600.6 753.6,603.9 784.2,594.0 805.0,590.7 825.0,589.7 860.0,558.0 929.9,560.8" fill="none" stroke="#5e5e5e" stroke-width="3" stroke-linejoin="round" stroke-linecap="butt"/><polyline points="679.2,664.0 693.4,660.7 714.2,661.8 728.4,568.9 753.6,580.9 784.2,570.0 805.0,558.0 825.0,558.0 860.0,550.3 929.9,553.6" fill="none" stroke="#e4844a" stroke-width="3" stroke-linejoin="round" stroke-linecap="butt"/><polyline points="679.2,676.0 693.4,675.0 714.2,667.3 728.4,594.0 753.6,593.0 784.2,585.3 805.0,577.6 825.0,576.5 860.0,560.1 929.9,567.8" fill="none" stroke="#f4bf2a" stroke-width="3" stroke-linejoin="round" stroke-linecap="butt"/><polyline points="679.2,690.3 714.2,689.2 728.4,657.5 753.6,648.7 784.2,640.0 805.0,625.7 825.0,641.0 860.0,605.0 929.9,611.5" fill="none" stroke="#6ba84e" stroke-width="3" stroke-linejoin="round" stroke-linecap="butt"/><polyline points="679.2,693.5 714.2,693.5 728.4,660.7 753.6,662.9 784.2,659.6 805.0,646.5 825.0,656.3 860.0,609.3 929.9,611.5" fill="none" stroke="#924616" stroke-width="3" stroke-linejoin="round" stroke-linecap="butt"/><polyline points="679.2,693.5 714.2,693.5 728.4,612.6 753.6,610.4 784.2,608.3 805.0,605.0 825.0,603.9 860.0,570.0 929.9,573.3" fill="none" stroke="#8f7020" stroke-width="3" stroke-linejoin="round" stroke-linecap="butt"/></g>
<text transform="translate(263.3,189.8) rotate(-90)" font-size="16.2" font-weight="normal" fill="#000" stroke="#000" stroke-width="0.5" textLength="40.5" lengthAdjust="spacingAndGlyphs">Boost</text><line x1="257.6" y1="199.4" x2="257.6" y2="217.9" stroke="#000" stroke-width="3.8"/><polyline points="250.6,205.4 257.6,218.7 264.6,205.4" fill="none" stroke="#000" stroke-width="3.9" stroke-linejoin="miter" stroke-miterlimit="10"/>
<text transform="translate(554.7,178.8) rotate(-90)" font-size="16.2" font-weight="normal" fill="#000" stroke="#000" stroke-width="0.5" textLength="40.5" lengthAdjust="spacingAndGlyphs">Boost</text><line x1="548.5" y1="188.5" x2="548.5" y2="205.7" stroke="#000" stroke-width="3.8"/><polyline points="541.5,194.5 548.5,206.5 555.5,194.5" fill="none" stroke="#000" stroke-width="3.9" stroke-linejoin="miter" stroke-miterlimit="10"/>
<text x="825.5" y="234.7" font-size="15" fill="#000" stroke="#000" stroke-width="0.45" textLength="40.8" lengthAdjust="spacingAndGlyphs">Boost</text><line x1="826.5" y1="240.8" x2="826.5" y2="258" stroke="#000" stroke-width="3.8"/><polyline points="819.5,246.8 826.5,258.8 833.5,246.8" fill="none" stroke="#000" stroke-width="3.9" stroke-linejoin="miter" stroke-miterlimit="10"/>
<text transform="translate(263.3,383.4) rotate(-90)" font-size="16.2" font-weight="normal" fill="#000" stroke="#000" stroke-width="0.5" textLength="41" lengthAdjust="spacingAndGlyphs">Boost</text><line x1="257.6" y1="392.5" x2="257.6" y2="409.1" stroke="#000" stroke-width="3.8"/><polyline points="250.6,398.5 257.6,409.9 264.6,398.5" fill="none" stroke="#000" stroke-width="3.9" stroke-linejoin="miter" stroke-miterlimit="10"/>
<text x="541.2" y="454.2" font-size="15" fill="#000" stroke="#000" stroke-width="0.45" textLength="40.8" lengthAdjust="spacingAndGlyphs">Boost</text>
<line x1="537.4" y1="459.8" x2="516" y2="485.6" stroke="#000" stroke-width="3.4"/>
<polyline points="519,473.2 515.8,486 529.6,481.8" fill="none" stroke="#000" stroke-width="3.9" stroke-linejoin="miter"/>
<text transform="translate(864.7,367.5) rotate(-90)" font-size="16.2" font-weight="normal" fill="#000" stroke="#000" stroke-width="0.5" textLength="40.4" lengthAdjust="spacingAndGlyphs">Boost</text><line x1="830.2" y1="374.7" x2="830.2" y2="393.3" stroke="#000" stroke-width="3.8"/><polyline points="823.2,380.7 830.2,394.1 837.2,380.7" fill="none" stroke="#000" stroke-width="3.9" stroke-linejoin="miter" stroke-miterlimit="10"/>
<text x="210.9" y="681.0" font-size="15" fill="#000" stroke="#000" stroke-width="0.45" textLength="40.4" lengthAdjust="spacingAndGlyphs">Boost</text><line x1="258.6" y1="682.2" x2="258.6" y2="699.6" stroke="#000" stroke-width="3.8"/><polyline points="251.6,688.2 258.6,700.4 265.6,688.2" fill="none" stroke="#000" stroke-width="3.9" stroke-linejoin="miter" stroke-miterlimit="10"/>
<text x="551.6" y="675.7" font-size="15" fill="#000" stroke="#000" stroke-width="0.45" textLength="39.4" lengthAdjust="spacingAndGlyphs">Boost</text><line x1="548.2" y1="685.2" x2="548.2" y2="700.3" stroke="#000" stroke-width="3.8"/><polyline points="541.2,691.2 548.2,701.1 555.2,691.2" fill="none" stroke="#000" stroke-width="3.9" stroke-linejoin="miter" stroke-miterlimit="10"/>
<text x="832.6" y="681.1" font-size="15" fill="#000" stroke="#000" stroke-width="0.45" textLength="40" lengthAdjust="spacingAndGlyphs">Boost</text><line x1="830.4" y1="685.9" x2="830.4" y2="700.4" stroke="#000" stroke-width="3.8"/><polyline points="823.4,691.9 830.4,701.2 837.4,691.9" fill="none" stroke="#000" stroke-width="3.9" stroke-linejoin="miter" stroke-miterlimit="10"/>
</svg></body></html>
